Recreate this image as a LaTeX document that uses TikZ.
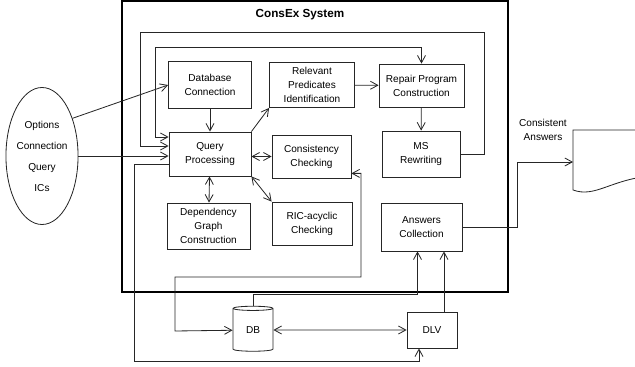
\documentclass[tikz,border=0pt]{standalone}
\usepackage{fontspec}
\setmainfont{Liberation Sans}
\usetikzlibrary{shapes.geometric,arrows.meta,calc}

\tikzset{
  box/.style={draw=black!85, line width=0.7pt, align=center, inner sep=0pt, font=\fontsize{8.6}{11.9}\selectfont},
  arr/.style={draw=black!85, line width=0.7pt, -{Straight Barb[length=2.2mm,width=2.4mm]}},
  dbl/.style={arr, {Straight Barb[length=2.2mm,width=2.4mm]}-{Straight Barb[length=2.2mm,width=2.4mm]}},
}

\begin{document}
\begin{tikzpicture}[x=0.3mm, y=-0.3mm]
  \useasboundingbox (0,0) rectangle (635,367);
  \clip (0,0) rectangle (635,367);

  % ConsEx System
  \draw[line width=2.4pt] (122,1) rectangle (508,292);
  \node[font=\bfseries\fontsize{10}{12}\selectfont] (title) at (300,15) {ConsEx System};

  % inputs
  \node[box, ellipse, minimum width=17.7mm, minimum height=41.1mm] (inputs) at (42,156)
    {Options\\[6pt]Connection\\[6pt]Query\\[6pt]ICs};

  % modules, top row
  \node[box, minimum width=24.9mm, minimum height=14.1mm] (dbconn) at (210,85) {Database\\Connection};
  \node[box, minimum width=25.5mm, minimum height=13.5mm] (relpred) at (312,85) {Relevant\\Predicates\\Identification};
  \node[box, minimum width=25.5mm, minimum height=12.9mm] (repair) at (421.5,85.5) {Repair Program\\Construction};

  % modules, middle row
  \node[box, minimum width=24.6mm, minimum height=13.2mm] (query) at (210,154) {Query\\Processing};
  \node[box, minimum width=23.7mm, minimum height=12.9mm] (consist) at (311.5,156.5) {Consistency\\Checking};
  \node[box, minimum width=23.4mm, minimum height=13.8mm] (msrew) at (421,154) {MS\\Rewriting};

  % modules, bottom row
  \node[box, minimum width=24.9mm, minimum height=13.8mm] (depgraph) at (208.5,226) {Dependency\\Graph\\Construction};
  \node[box, minimum width=24mm, minimum height=12.9mm] (ricacyc) at (312,223.5) {RIC-acyclic\\Checking};
  \node[box, minimum width=24.3mm, minimum height=14.4mm] (anscoll) at (421.5,227) {Answers\\Collection};

  % DB and DLV
  \node[box, cylinder, shape border rotate=90, aspect=0.3, minimum width=12mm, minimum height=13.5mm] (db) at (253,330) {DB};
  \node[box, minimum width=15mm, minimum height=10.8mm] (dlv) at (432,330) {DLV};

  % output document
  \draw[draw=black!85, line width=0.7pt] (573,130) -- (573,190) .. controls (595,198) and (610,180) .. (650,176) -- (650,130) -- cycle;
  \coordinate (docin) at (573,162);
  \node[box, draw=none] (cons) at (543,130) {Consistent\\Answers};

  % connections
  \draw[arr] (inputs.51) -- (dbconn.west);
  \draw[arr] (inputs.east) -- (inputs.east -| query.west);
  \draw[arr] (dbconn) -- (query);
  \draw[arr] (query.north east) -- (relpred.south west);
  \draw[arr] (relpred) -- (repair);
  \draw[arr] (repair) -- (msrew);
  \draw[dbl] (query.east |- consist.west) -- (consist.west);
  \draw[dbl] (query.south east) -- (ricacyc.north west);
  \draw[dbl] (query) -- (depgraph);

  % feedback loops
  \draw[arr] (msrew.east) -| (484,32) -| (140,146) -- ($(query.west)+(0,-8)$);
  \draw[dbl] ($(query.west)+(0,-17)$) -| (155,47) -| (repair.north);

  % to DB and DLV
  \draw[dbl] ($(consist.south east)+(0,-5)$) -| (361,277) -| (175,331) -- (db);
  \draw[arr] ($(query.west)+(0,10)$) -| (134,361) -| ($(dlv.south)+(-13,0)$);
  \draw[dbl] (db) -- (dlv);
  \draw[arr] (db.north) -- ++(0,-11) -| ($(anscoll.south)+(-4,0)$);
  \coordinate (dlvout) at ($(dlv.north)+(12,0)$);
  \draw[arr] (dlvout) -- (dlvout |- anscoll.south);
  \draw[arr] (anscoll.east) -| (517,162) -- (docin);
\end{tikzpicture}
\end{document}
